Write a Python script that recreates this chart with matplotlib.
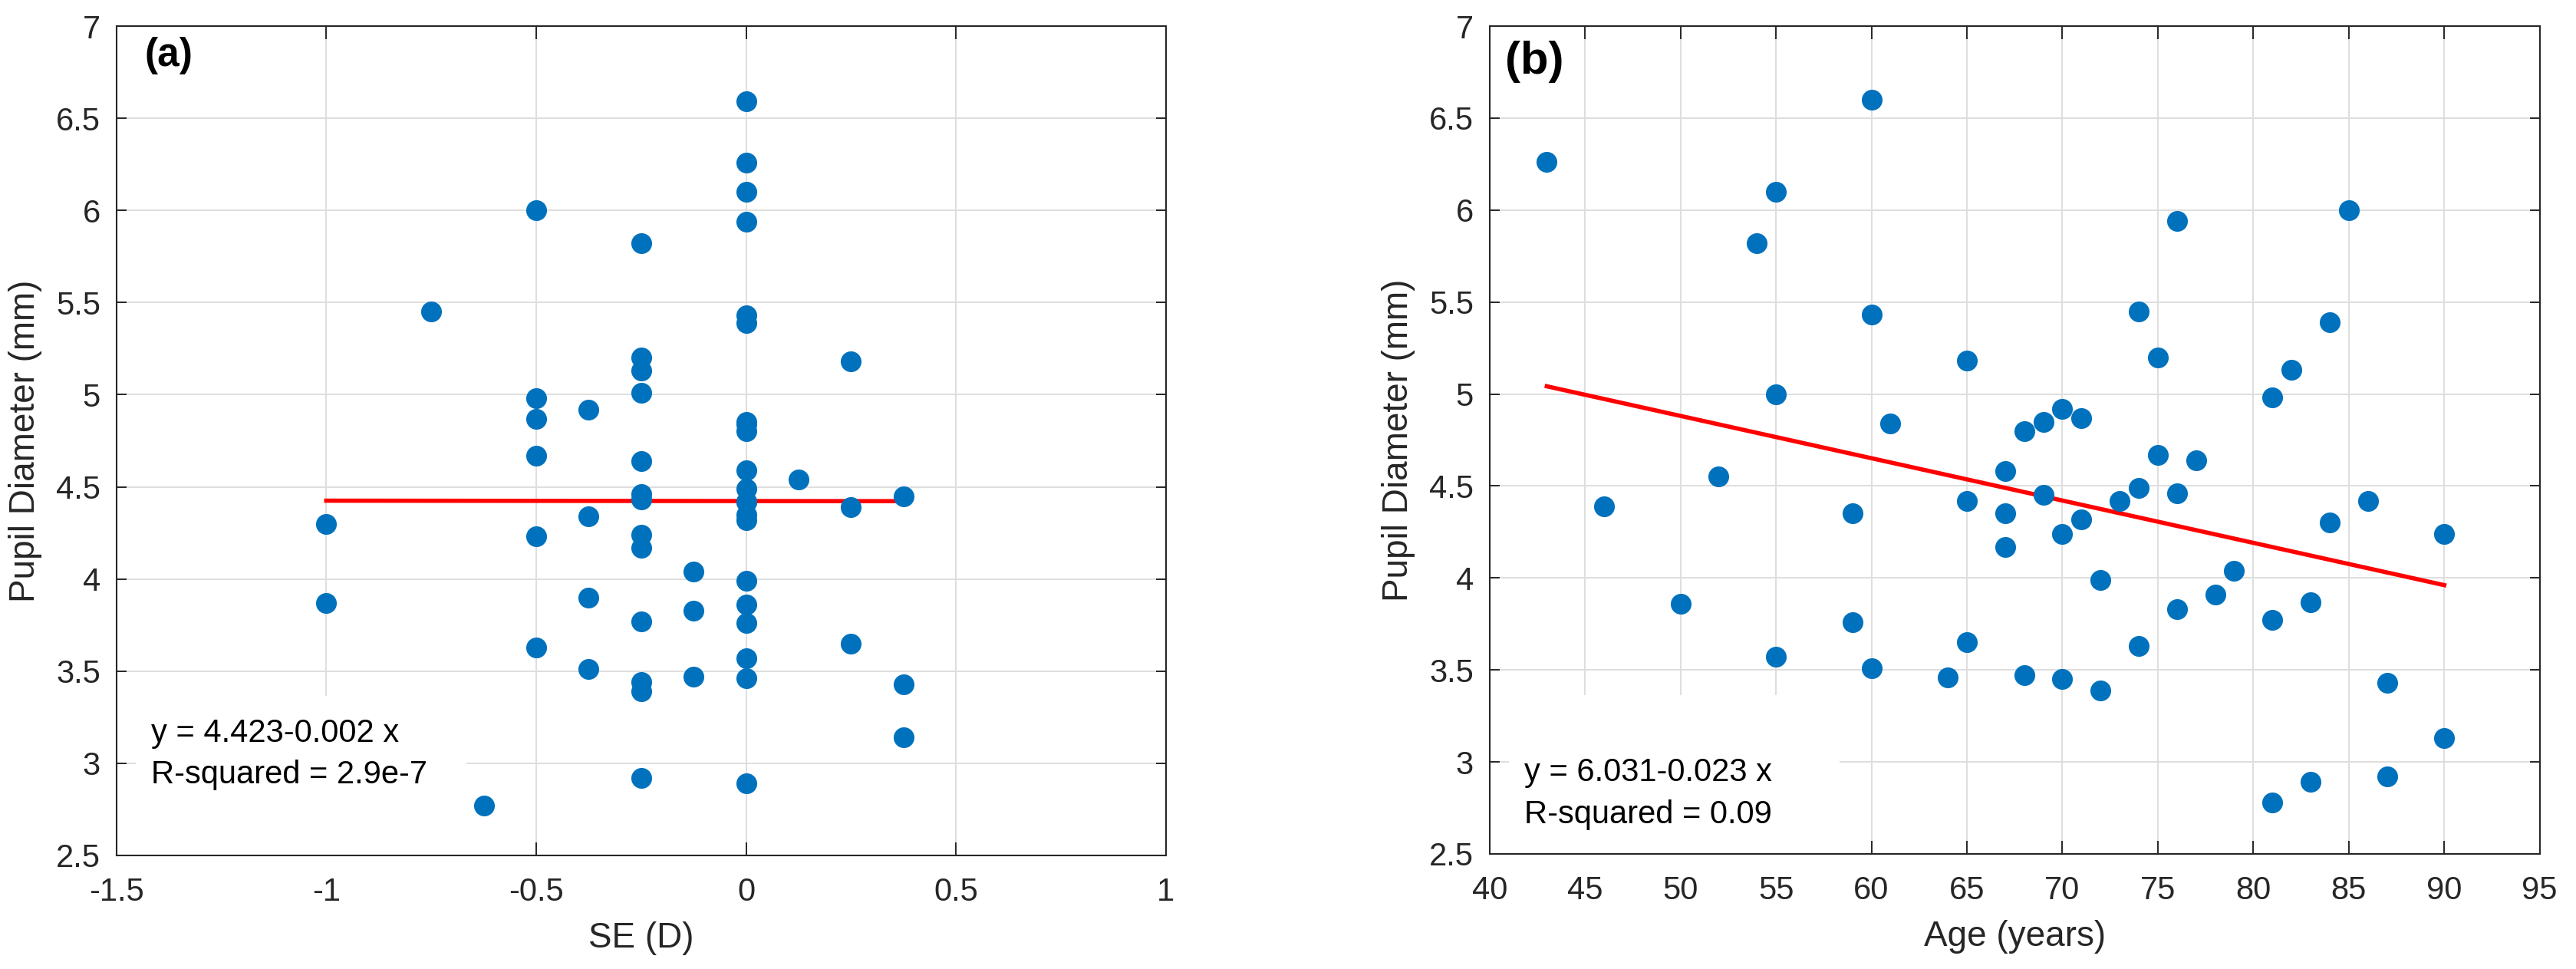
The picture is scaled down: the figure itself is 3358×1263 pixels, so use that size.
import numpy as np
import matplotlib
matplotlib.use('Agg')
import matplotlib.pyplot as plt
from matplotlib.patches import Rectangle
from matplotlib.ticker import FuncFormatter

plt.rcParams['font.family'] = ['Liberation Sans', 'DejaVu Sans']
plt.rcParams['axes.unicode_minus'] = False

# panel (a): spherical equivalent vs pupil diameter
se_d = ([-1.0] * 2 + [-0.75] + [-0.625] + [-0.5] * 6 + [-0.375] * 4 + [-0.25] * 13
        + [-0.125] * 3 + [0.0] * 21 + [0.125] + [0.25] * 3 + [0.375] * 3)
pupil_a = [4.30, 3.87,
           5.45,
           2.77,
           6.00, 4.98, 4.87, 4.67, 4.23, 3.63,
           4.92, 4.34, 3.90, 3.51,
           5.82, 5.20, 5.13, 5.01, 4.64, 4.46, 4.43, 4.24, 4.17, 3.77, 3.44, 3.39, 2.92,
           4.04, 3.83, 3.47,
           6.59, 6.26, 6.10, 5.94, 5.43, 5.39, 4.85, 4.84, 4.80, 4.59, 4.49, 4.42, 4.42,
           4.35, 4.32, 3.99, 3.86, 3.76, 3.57, 3.46, 2.89,
           4.54,
           5.18, 4.39, 3.65,
           4.45, 3.43, 3.14]

# panel (b): age vs pupil diameter
age = [43, 46, 50, 52, 54, 55, 55, 55, 59, 59, 60, 60, 60, 61, 64, 65, 65, 65,
       67, 67, 67, 68, 68, 69, 69, 70, 70, 70, 71, 71, 72, 72, 73, 74, 74, 74,
       75, 75, 76, 76, 76, 77, 78, 79, 81, 81, 81, 82, 83, 83, 84, 84, 85, 86,
       87, 87, 90, 90]
pupil_b = [6.26, 4.39, 3.86, 4.55, 5.82, 6.10, 5.00, 3.57, 4.35, 3.76, 6.60, 5.43,
           3.51, 4.84, 3.46, 5.18, 4.42, 3.65, 4.58, 4.35, 4.17, 4.80, 3.47, 4.85,
           4.45, 4.92, 4.24, 3.45, 4.87, 4.32, 3.99, 3.39, 4.42, 5.45, 4.49, 3.63,
           5.20, 4.67, 5.94, 4.46, 3.83, 4.64, 3.91, 4.04, 4.98, 3.77, 2.78, 5.13,
           3.87, 2.89, 5.39, 4.30, 6.00, 4.42, 3.43, 2.92, 4.24, 3.13]

# fit coefficients as printed on the chart
fit_a = (4.423, -0.002)
fit_b = (6.031, -0.023)
text_a = ["y = 4.423-0.002 x", "R-squared = 2.9e-7"]
text_b = ["y = 6.031-0.023 x", "R-squared = 0.09"]

blue = '#0072BD'
dark = '#262626'

fig = plt.figure(figsize=(33.58, 12.63), dpi=100)
W, H = 3358, 1263
ax_a = fig.add_axes([151.7 / W, 1 - 1115 / H, 1368 / W, 1081 / H])
ax_b = fig.add_axes([1941.7 / W, 1 - 1113 / H, 1369 / W, 1079 / H])


def fmt(v, pos):
    return '%g' % v


def style(ax, xlim, xticks):
    ax.set_xlim(*xlim)
    ax.set_ylim(2.5, 7)
    ax.set_xticks(xticks)
    ax.set_yticks(np.arange(2.5, 7.01, 0.5))
    ax.xaxis.set_major_formatter(FuncFormatter(fmt))
    ax.yaxis.set_major_formatter(FuncFormatter(fmt))
    ax.set_axisbelow(True)
    ax.grid(True, color='#dedede', linewidth=1.4)
    ax.tick_params(axis='both', direction='in', top=True, right=True,
                   colors=dark, labelsize=30, width=1.4)
    ax.tick_params(axis='x', length=12, pad=20)
    ax.tick_params(axis='y', length=9.5, pad=15)
    for sp in ax.spines.values():
        sp.set_color(dark)
        sp.set_linewidth(1.5)
    ax.set_ylabel('Pupil Diameter (mm)', fontsize=33, color=dark)
    ax.yaxis.set_label_coords(-0.071, 0.5)
    # white box behind the fit text
    ax.add_patch(Rectangle((0.0185, 0.0), 0.315, 0.192, transform=ax.transAxes,
                           facecolor='white', edgecolor='none', zorder=1))


def panel(ax, x, y, fit, lines, tag, tagsize, tagpos, textpos, xlabel, xlim, xticks):
    style(ax, xlim, xticks)
    ax.plot(x, y, 'o', color=blue, markersize=19.5, markeredgewidth=0, zorder=3)
    xs = np.array([min(x), max(x)])
    ax.plot(xs, fit[0] + fit[1] * xs, color='red', linewidth=4, zorder=2.5)
    ax.set_xlabel(xlabel, fontsize=33, color=dark)
    ax.xaxis.set_label_coords(0.5, -0.08)
    ax.text(tagpos[0], tagpos[1], tag, transform=ax.transAxes, fontsize=tagsize,
            fontweight='bold', va='baseline', ha='left', zorder=4)
    ax.text(textpos[0], textpos[1], lines[0], transform=ax.transAxes, fontsize=30,
            va='baseline', ha='left', zorder=4)
    ax.text(textpos[0], textpos[1] - 0.0505, lines[1], transform=ax.transAxes, fontsize=30,
            va='baseline', ha='left', zorder=4)


panel(ax_a, se_d, pupil_a, fit_a, text_a, '(a)', 37, (0.027, 0.952), (0.033, 0.137),
      'SE (D)', (-1.5, 1), np.arange(-1.5, 1.01, 0.5))
panel(ax_b, age, pupil_b, fit_b, text_b, '(b)', 43, (0.0145, 0.943), (0.033, 0.088),
      'Age (years)', (40, 95), np.arange(40, 96, 5))

fig.savefig('out.png', dpi=100, facecolor='white')
